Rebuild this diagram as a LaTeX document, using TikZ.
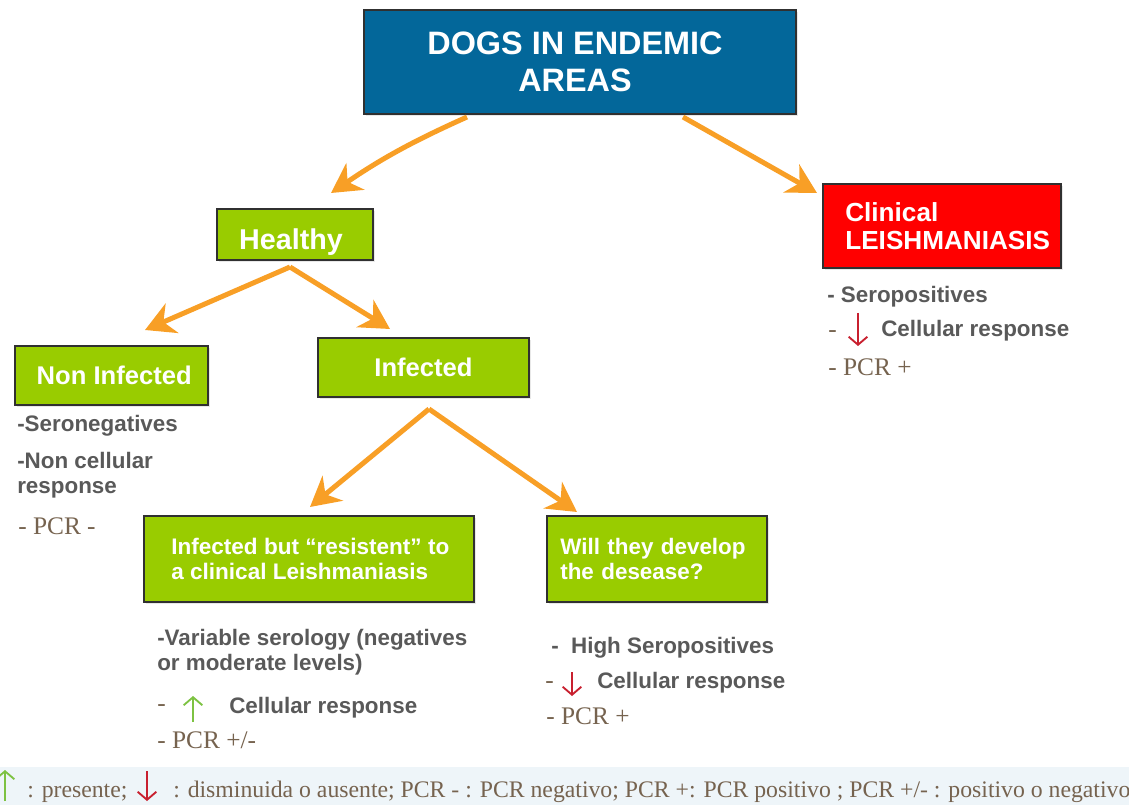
\documentclass[tikz,border=0pt]{standalone}
\usepackage{fontspec}
\setmainfont{Liberation Sans}
\newfontfamily\pcrfont{Liberation Serif}
\usetikzlibrary{arrows.meta,shadows}

\definecolor{navy}{HTML}{03679A}
\definecolor{leaf}{HTML}{99CC00}
\definecolor{alarm}{HTML}{FF0000}
\definecolor{edge}{HTML}{303030}
\definecolor{flow}{HTML}{F89F26}
\definecolor{notegray}{HTML}{595959}
\definecolor{umber}{HTML}{76634F}
\definecolor{upgreen}{HTML}{7DC242}
\definecolor{downred}{HTML}{C8202F}
\definecolor{keyband}{HTML}{EEF5F9}

\begin{document}
\begin{tikzpicture}[x=0.75pt,y=-0.75pt,
  box/.style={draw=edge, line width=1pt, text=white, inner sep=0pt,
    drop shadow={opacity=0.18,shadow xshift=1.5pt,shadow yshift=-1.5pt}},
  greenbox/.style={box, fill=leaf},
  link/.style={draw=flow, line width=3.75pt,
    -{Stealth[length=22pt,width=24pt,inset=7pt]}},
  notetext/.style={anchor=base west, inner sep=0pt, text=notegray,
    font=\bfseries\fontsize{16.8}{18.5}\selectfont},
  pcr/.style={anchor=base west, inner sep=0pt, text=umber,
    font=\pcrfont\fontsize{19}{22}\selectfont},
  keytext/.style={pcr, font=\pcrfont\fontsize{17.8}{20}\selectfont},
  rise/.style={draw=upgreen, line width=1.4pt,
    -{Straight Barb[length=6pt,width=14pt]}},
  fall/.style={draw=downred, line width=1.4pt,
    -{Straight Barb[length=6pt,width=14pt]}}]
\useasboundingbox (0,0) rectangle (1129,805);

% ---- boxes ----
\node[box, fill=navy, minimum width=324pt, minimum height=78pt, align=center,
  font=\bfseries\fontsize{24.3}{27.75}\selectfont] (dogs) at (580,62)
  {DOGS IN ENDEMIC\hspace*{7.5pt}\\AREAS\hspace*{7.5pt}};

\node[greenbox, minimum width=117pt, minimum height=38.25pt,
  font=\bfseries\fontsize{21.5}{24}\selectfont, text height=15.5pt, text depth=0pt]
  (healthy) at (295,234.5) {\raisebox{-3.5pt}{Healthy}\hspace*{6pt}};

\node[box, fill=alarm, minimum height=63pt, text width=160pt, inner xsep=9.25pt,
  align=left, font=\bfseries\fontsize{19.6}{21}\selectfont]
  (clinical) at (942,226)
  {\mbox{\hspace*{7.5pt}Clinical}\\\mbox{\hspace*{7.5pt}LEISHMANIASIS}};

\node[greenbox, minimum width=144.75pt, minimum height=44.25pt,
  font=\bfseries\fontsize{19.2}{22}\selectfont, text height=13.8pt, text depth=0pt]
  (noninf) at (111.5,375.5) {\hspace*{4pt}Non Infected};

\node[greenbox, minimum width=158.25pt, minimum height=44.25pt,
  font=\bfseries\fontsize{19.2}{22}\selectfont, text height=13.8pt, text depth=0pt]
  (infected) at (423.5,367.5) {Infected};

\node[greenbox, minimum width=247.5pt, minimum height=64.5pt, align=left,
  font=\bfseries\fontsize{16.9}{18.75}\selectfont]
  (resist) at (309,559) {\hspace*{2pt}Infected but “resistent” to\\\hspace*{2pt}a clinical Leishmaniasis};

\node[greenbox, minimum width=165pt, minimum height=64.5pt, text width=145pt,
  inner xsep=7.5pt, align=left, font=\bfseries\fontsize{16.8}{18.75}\selectfont]
  (develop) at (657,559) {Will they develop\\the desease?};

% ---- connectors ----
\coordinate (dogsL) at (467,117);
\coordinate (dogsR) at (683,117);
\coordinate (toHealthy) at (331,193);
\coordinate (toClinical) at (817,193);
\coordinate (hsplit) at (290,267);
\coordinate (toNon) at (145,330);
\coordinate (toInf) at (390,329);
\coordinate (isplit) at (429,409);
\coordinate (toResist) at (310,507);
\coordinate (toDevelop) at (577,512);

\draw[link] (dogsL) to[bend right=5] (toHealthy);
\draw[link] (dogsR) -- (toClinical);
\draw[link] (hsplit) -- (toNon);
\draw[link] (hsplit) -- (toInf);
\draw[link] (isplit) -- (toResist);
\draw[link] (isplit) -- (toDevelop);

% ---- notes under the non infected box ----
\node[notetext] (nonA) at (17,432) {-Seronegatives};
\node[notetext] (nonB) at (17,469) {-Non cellular};
\node[notetext] (nonC) at (17,494) {response};
\node[pcr] (nonD) at (18,535) {- PCR -};

% ---- notes under the clinical box ----
\node[notetext] (cliA) at (827,303) {- Seropositives};
\node[pcr] (cliB) at (828,338) {-};
\draw[fall] (858,313) -- (858,346);
\node[notetext] (cliC) at (881,337) {Cellular response};
\node[pcr] (cliD) at (828,376) {- PCR +};

% ---- notes under the resistant box ----
\node[notetext] (resA) at (157,645) {-Variable serology (negatives};
\node[notetext] (resB) at (157,670) {or moderate levels)};
\node[pcr] (resC) at (157,711) {-};
\draw[rise] (193,722) -- (193,696);
\node[notetext] (resD) at (229,713) {Cellular response};
\node[pcr] (resE) at (157,748) {- PCR +/-};

% ---- notes under the develop box ----
\node[notetext] (devA) at (551,653) {-~ High Seropositives};
\node[pcr] (devB) at (545,688) {-};
\draw[fall] (572,672) -- (572,696);
\node[notetext] (devC) at (597,688) {Cellular response};
\node[pcr] (devD) at (546,724) {- PCR +};

% ---- key ----
\fill[keyband] (0,767) rectangle (1129,805);
\draw[rise] (5,801) -- (5,770);
\node[keytext] (keyA) at (27,797) {: presente;};
\draw[fall] (147,771) -- (147,801);
\node[keytext] (keyB) at (173,797)
  {: disminuida o ausente; PCR - : PCR negativo; PCR +: PCR positivo ; PCR +/- : positivo o negativo};
\end{tikzpicture}
\end{document}
